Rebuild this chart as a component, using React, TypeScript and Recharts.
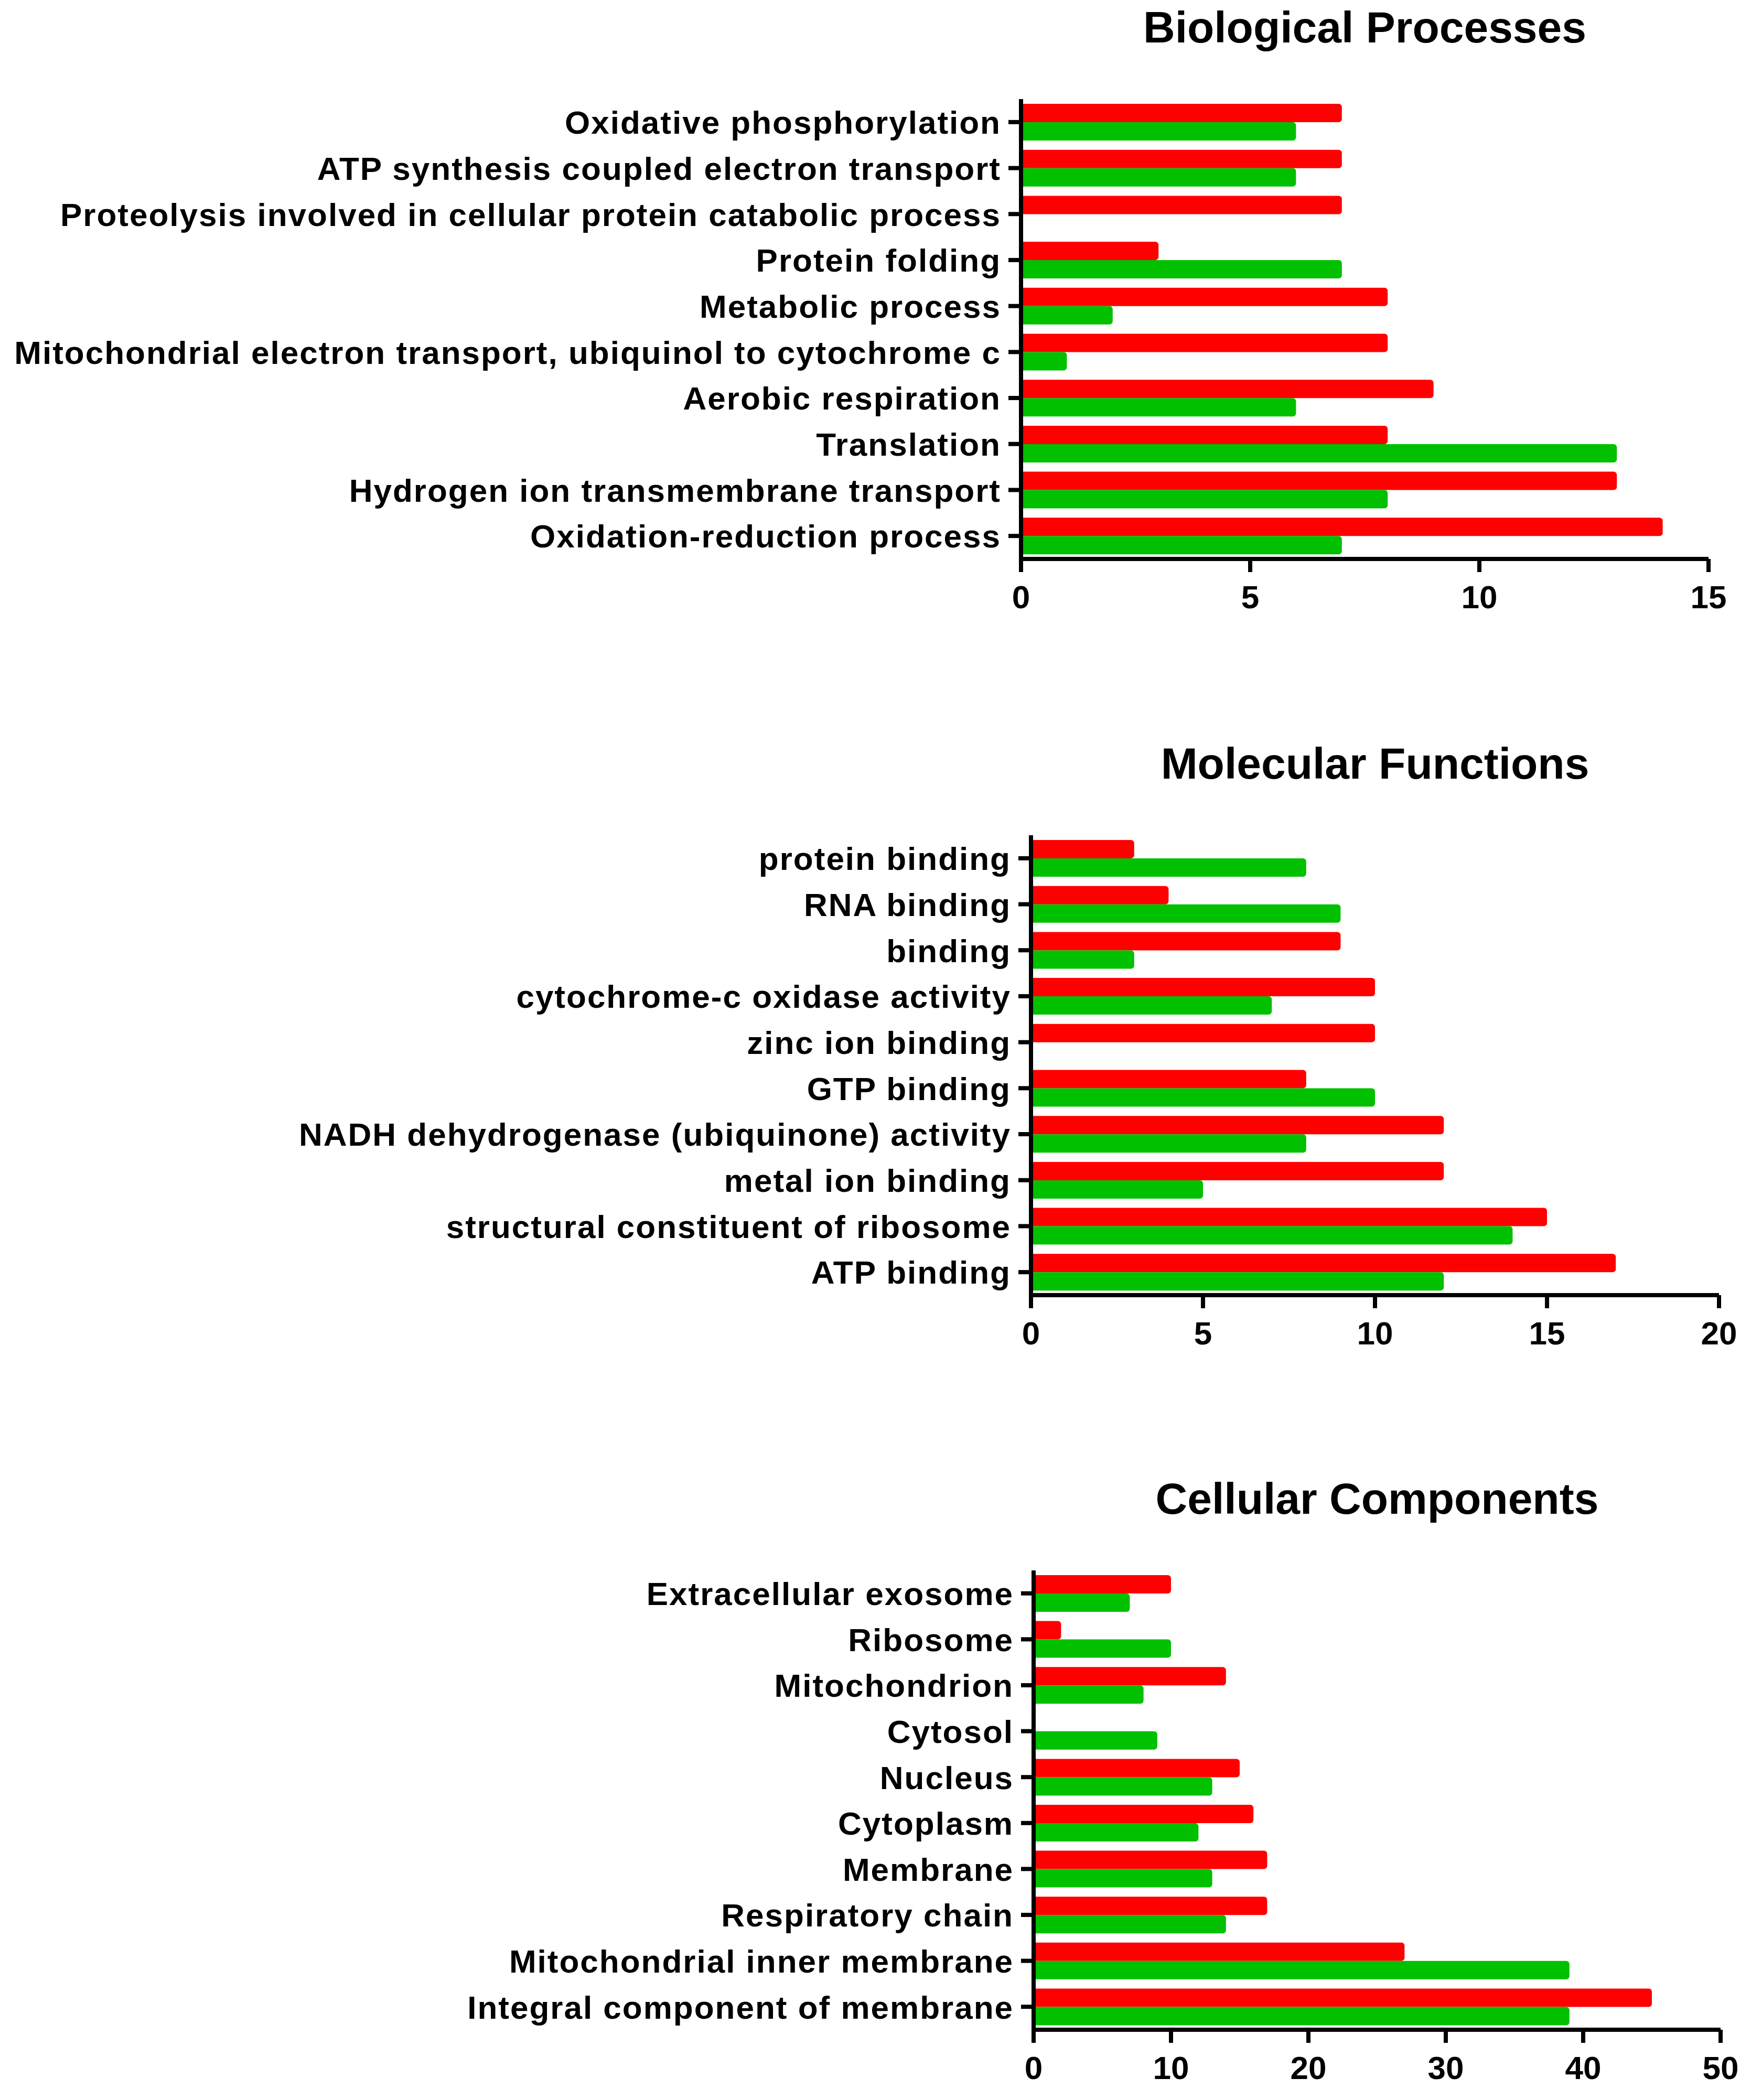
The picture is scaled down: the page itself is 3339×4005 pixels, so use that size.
import { BarChart, Bar, XAxis, YAxis } from "recharts"

const FONT = '"Liberation Sans", Arial, Helvetica, sans-serif'
const RED = "#ff0000"
const GREEN = "#00c000"

// Biological Processes
const bpCategories = [
  "Oxidative phosphorylation",
  "ATP synthesis coupled electron transport",
  "Proteolysis involved in cellular protein catabolic process",
  "Protein folding",
  "Metabolic process",
  "Mitochondrial electron transport, ubiquinol to cytochrome c",
  "Aerobic respiration",
  "Translation",
  "Hydrogen ion transmembrane transport",
  "Oxidation-reduction process",
]
const bpRed = [7, 7, 7, 3, 8, 8, 9, 8, 13, 14]
const bpGreen = [6, 6, 0, 7, 2, 1, 6, 13, 8, 7]
const bpTicks = [0, 5, 10, 15]

// Molecular Functions
const mfCategories = [
  "protein binding",
  "RNA binding",
  "binding",
  "cytochrome-c oxidase activity",
  "zinc ion binding",
  "GTP binding",
  "NADH dehydrogenase (ubiquinone) activity",
  "metal ion binding",
  "structural constituent of ribosome",
  "ATP binding",
]
const mfRed = [3, 4, 9, 10, 10, 8, 12, 12, 15, 17]
const mfGreen = [8, 9, 3, 7, 0, 10, 8, 5, 14, 12]
const mfTicks = [0, 5, 10, 15, 20]

// Cellular Components
const ccCategories = [
  "Extracellular exosome",
  "Ribosome",
  "Mitochondrion",
  "Cytosol",
  "Nucleus",
  "Cytoplasm",
  "Membrane",
  "Respiratory chain",
  "Mitochondrial inner membrane",
  "Integral component of membrane",
]
const ccRed = [10, 2, 14, 0, 15, 16, 17, 17, 27, 45]
const ccGreen = [7, 10, 8, 9, 13, 12, 13, 14, 39, 39]
const ccTicks = [0, 10, 20, 30, 40, 50]

function YTick({ x, y, payload }: any) {
  return (
    <text
      x={x}
      y={y}
      dy="0.36em"
      textAnchor="end"
      fontFamily={FONT}
      fontWeight="bold"
      fontSize={62}
      letterSpacing={2}
      fill="#000"
    >
      {payload.value}
    </text>
  )
}

function XTick({ x, y, payload }: any) {
  return (
    <text
      x={x}
      y={y}
      dy="0.71em"
      textAnchor="middle"
      fontFamily={FONT}
      fontWeight="bold"
      fontSize={62}
      fill="#000"
    >
      {payload.value}
    </text>
  )
}

function Panel({ title, categories, red, green, ticks, plotTop, plotBottom, axisX, plotRight }: any) {
  const data = categories.map((name: string, i: number) => ({ name, red: red[i], green: green[i] }))
  const top = plotTop - 150
  const height = plotBottom - plotTop + 280
  const axisStyle = { stroke: "#000", strokeWidth: 8 }

  return (
    <div style={{ position: "absolute", left: 0, top, width: 3339, height }}>
      <div
        style={{
          position: "absolute",
          left: axisX,
          width: plotRight - axisX,
          top: 150 - 108 - 71,
          textAlign: "center",
          fontFamily: FONT,
          fontWeight: "bold",
          fontSize: 84,
          lineHeight: "84px",
          whiteSpace: "nowrap",
          color: "#000",
        }}
      >
        {title}
      </div>
      <BarChart
        layout="vertical"
        width={3339}
        height={height}
        data={data}
        margin={{ top: 150, right: 3339 - plotRight, bottom: 10, left: 0 }}
        barGap={0}
        barSize={35}
      >
        <XAxis
          type="number"
          domain={[0, ticks[ticks.length - 1]]}
          ticks={ticks}
          interval={0}
          axisLine={axisStyle}
          tickLine={axisStyle}
          tickSize={25}
          tickMargin={25}
          height={120}
          tick={(p: any) => <XTick {...p} />}
        />
        <YAxis
          type="category"
          dataKey="name"
          width={axisX}
          interval={0}
          axisLine={axisStyle}
          tickLine={axisStyle}
          tickSize={24}
          tickMargin={14}
          tick={(p: any) => <YTick {...p} />}
        />
        <Bar dataKey="red" fill={RED} radius={[0, 6, 6, 0]} isAnimationActive={false} />
        <Bar dataKey="green" fill={GREEN} radius={[0, 6, 6, 0]} isAnimationActive={false} />
      </BarChart>
    </div>
  )
}

export default function App() {
  return (
    <div style={{ position: "absolute", left: 0, top: 0, width: 3339, height: 4005, background: "#fff" }}>
      <Panel
        title="Biological Processes"
        categories={bpCategories}
        red={bpRed}
        green={bpGreen}
        ticks={bpTicks}
        plotTop={189}
        plotBottom={1066}
        axisX={1947}
        plotRight={3258}
      />
      <Panel
        title="Molecular Functions"
        categories={mfCategories}
        red={mfRed}
        green={mfGreen}
        ticks={mfTicks}
        plotTop={1593}
        plotBottom={2470}
        axisX={1966}
        plotRight={3278}
      />
      <Panel
        title="Cellular Components"
        categories={ccCategories}
        red={ccRed}
        green={ccGreen}
        ticks={ccTicks}
        plotTop={2995}
        plotBottom={3871}
        axisX={1971}
        plotRight={3281}
      />
    </div>
  )
}
